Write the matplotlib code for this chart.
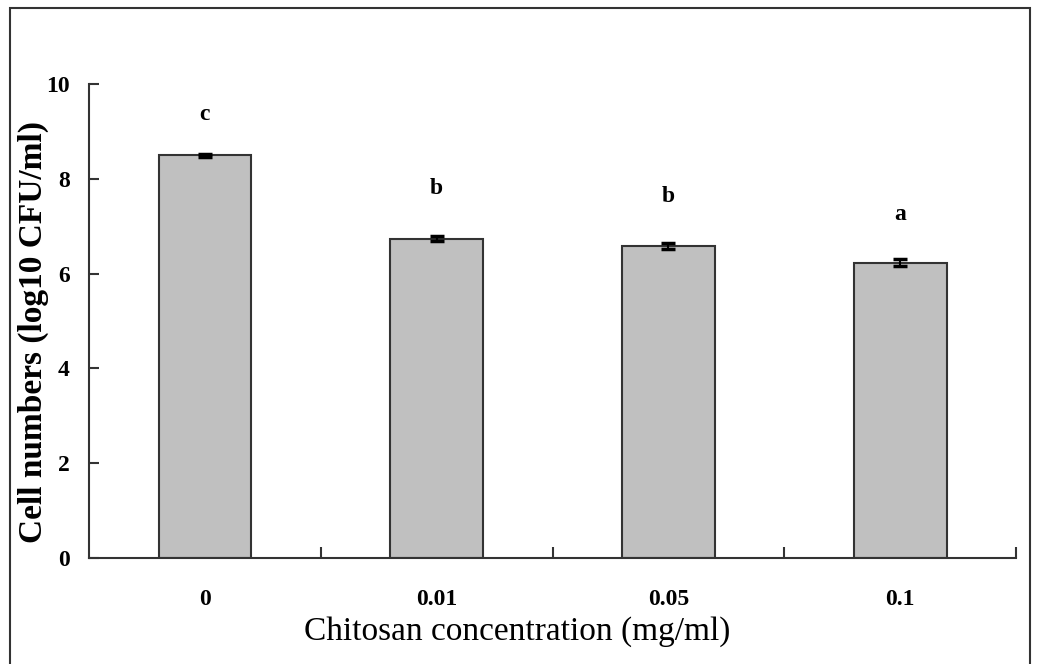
import matplotlib
matplotlib.use("Agg")
import matplotlib.pyplot as plt
from matplotlib.patches import Rectangle

# data
concentrations = ["0", "0.01", "0.05", "0.1"]
cell_numbers = [8.50, 6.74, 6.58, 6.23]
errors = [0.03, 0.06, 0.07, 0.08]
letters = ["c", "b", "b", "a"]
letter_heights = [9.35, 7.80, 7.62, 7.25]

plt.rcParams["font.family"] = ["Liberation Serif", "DejaVu Serif"]

fig = plt.figure(figsize=(10.4, 6.64), dpi=100)
ax = fig.add_axes([0.0856, 0.1596, 0.8914, 0.7139])

x = list(range(len(concentrations)))
ax.bar(x, cell_numbers, width=0.4, color="#c0c0c0", edgecolor="#333333",
       linewidth=1.5, zorder=2)
ax.errorbar(x, cell_numbers, yerr=errors, fmt="none", ecolor="black",
            elinewidth=1.5, capsize=5, capthick=2.5, zorder=3)

for xi, lab, h in zip(x, letters, letter_heights):
    ax.text(xi, h, lab, ha="center", va="center", fontsize=17,
            fontweight="bold")

ax.set_xlim(-0.5, len(concentrations) - 0.5)
ax.set_ylim(0, 10)
ax.set_yticks(range(0, 11, 2))
ax.set_yticklabels([str(v) for v in range(0, 11, 2)], fontsize=17,
                   fontweight="bold")

# category boundaries carry the ticks, labels sit under the bars
ax.set_xticks([i + 0.5 for i in x])
ax.set_xticklabels([])
ax.set_xticks(x, minor=True)
ax.set_xticklabels(concentrations, minor=True, fontsize=17, fontweight="bold")
ax.tick_params(axis="x", which="major", direction="in", length=8, width=1.5,
               color="#333333")
ax.tick_params(axis="x", which="minor", length=0, pad=22)
ax.tick_params(axis="y", direction="in", length=7, width=1.5, color="#333333",
               pad=14)

for side in ("top", "right"):
    ax.spines[side].set_visible(False)
for side in ("left", "bottom"):
    ax.spines[side].set_linewidth(1.5)
    ax.spines[side].set_color("#333333")

ax.set_xlabel("Chitosan concentration (mg/ml)", fontsize=24, va="center")
ax.xaxis.set_label_coords(0.462, -0.156)
ax.set_ylabel("Cell numbers (log10 CFU/ml)", fontsize=24, fontweight="bold",
              va="center")
ax.yaxis.set_label_coords(-0.06, 0.477)

# outer frame of the figure
fig.patches.append(Rectangle((10 / 1040, -0.05), 1020 / 1040, 1.05 - 8 / 664,
                             transform=fig.transFigure, fill=False,
                             edgecolor="#333333", linewidth=1.5))

fig.savefig("out.png", dpi=100)
